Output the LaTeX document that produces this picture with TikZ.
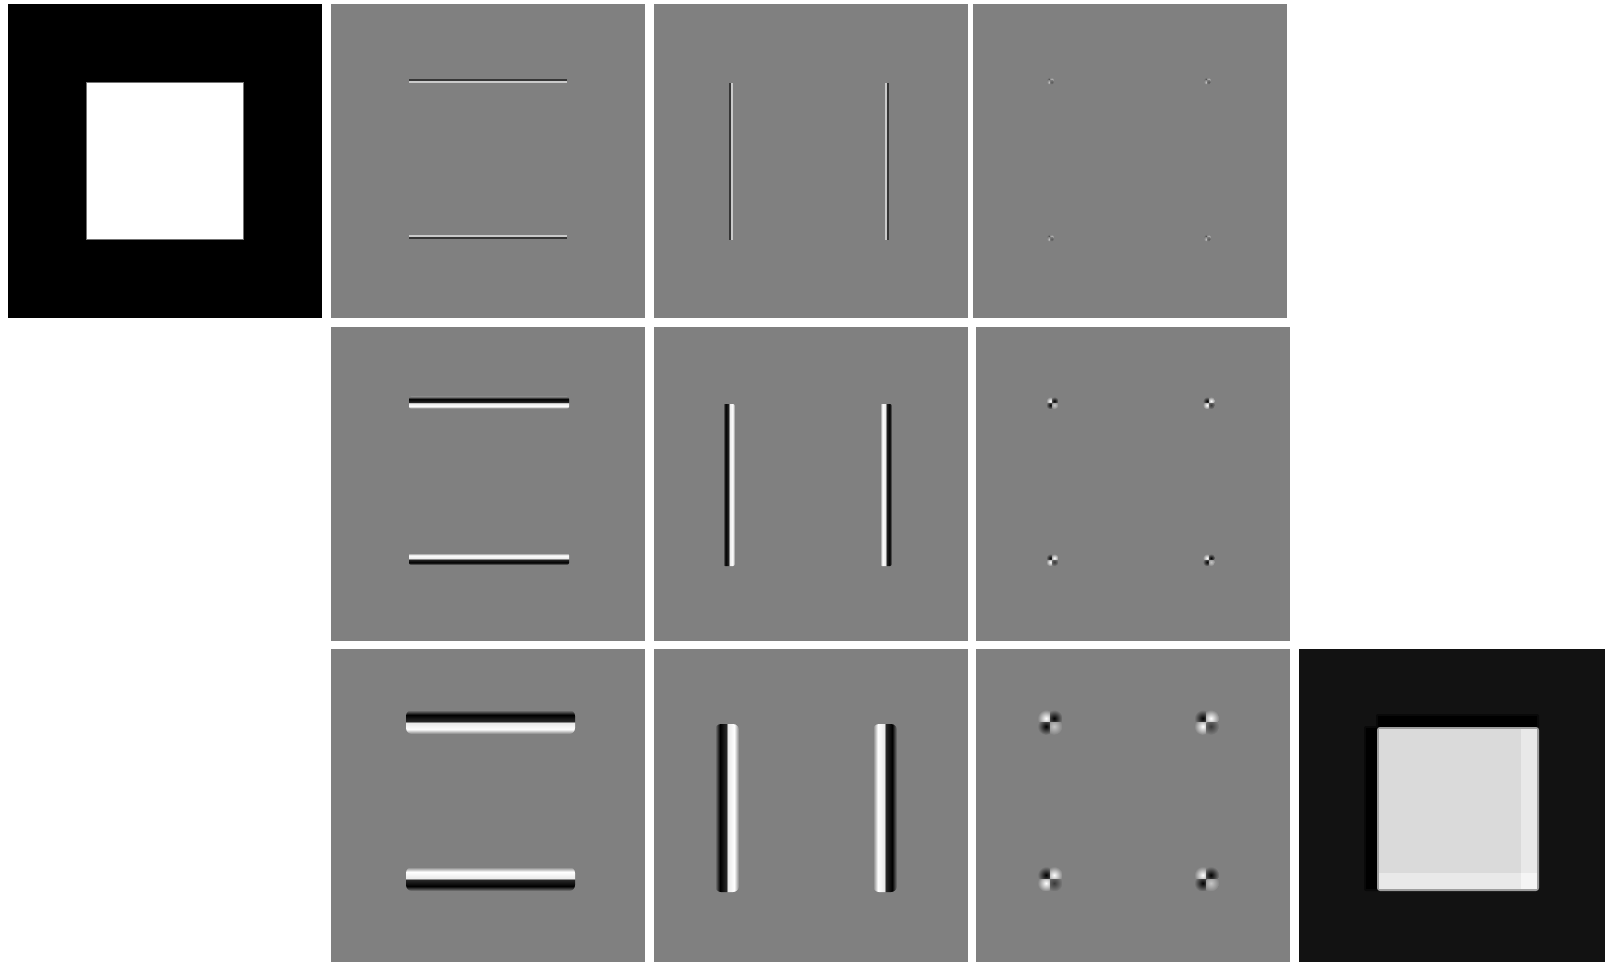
\documentclass[tikz,border=0pt]{standalone}
\usepackage{xcolor}
\usetikzlibrary{calc}
\definecolor{bggray}{HTML}{808080}
\definecolor{lvdark}{HTML}{363636}
\definecolor{lvlight}{HTML}{CACACA}
\definecolor{recdark}{HTML}{121212}
\definecolor{reclight}{HTML}{DADADA}
\definecolor{recbright}{HTML}{E9E9E9}

% dark band then light band, soft on both sides (path box = 25bp..75bp)
\pgfdeclarehorizontalshading{edgeband}{100bp}{color(0bp)=(bggray); color(25bp)=(bggray); color(35bp)=(black);
  color(48bp)=(black!85!white); color(52bp)=(white!92!black); color(65bp)=(white); color(75bp)=(bggray); color(100bp)=(bggray)}

\tikzset{
  panel/.style={fill=bggray},
  edge/.style={shading=edgeband}
}

% corner response: x, y, quadrant size, colour of TL/BR, colour of TR/BL
\newcommand{\cornerdot}[5]{%
  \foreach \dx/\dy/\qc in {-1/-1/#4, 1/-1/#5, -1/1/#5, 1/1/#4!55!bggray}{
    \begin{scope}
      \clip (#1,#2) rectangle ({#1+\dx*#3*1.3},{#2+\dy*#3*1.3});
      \shade[inner color=\qc, outer color=bggray] ({#1+\dx*#3*0.45},{#2+\dy*#3*0.45}) circle ({#3*0.95});
    \end{scope}
  }
}

\begin{document}
\begin{tikzpicture}[x=0.5pt, y=-0.5pt]

  %% Canvas
  \fill[white] (0,0) rectangle (1605,962);
  \useasboundingbox (0,0) rectangle (1605,962);

  %% Input image
  \fill[black] (8,4) rectangle (322,318);
  \fill[white, draw=black!55, line width=0.5pt] (86.3,82.3) rectangle (243.7,239.3);

  %% Detail panels
  \foreach \x/\y in {331/4, 654/4, 973/4, 331/327, 654/327, 976/327, 331/649, 654/649, 976/649}{
    \fill[panel] (\x,\y) rectangle ({\x+314},{min(\y+314,962)});
  }

  %% Level 1
  \fill[lvdark]  (409,79) rectangle (567,81);
  \fill[lvlight] (409,81) rectangle (567,83);
  \fill[lvlight] (409,235.3) rectangle (567,237.3);
  \fill[lvdark]  (409,237.3) rectangle (567,239.5);
  \fill[lvdark]  (728.5,82.7) rectangle (730.7,240);
  \fill[lvlight] (730.7,82.7) rectangle (732.7,240);
  \fill[lvlight] (885,82.7) rectangle (887,240);
  \fill[lvdark]  (887,82.7) rectangle (889,240);
  \foreach \cx/\cy/\ca/\cb in {1050.5/81/lvdark/lvlight, 1207.5/81/lvdark/lvlight,
                               1050.5/238/lvdark/lvlight, 1207.5/238/lvdark/lvlight}{
    \cornerdot{\cx}{\cy}{2.5}{\ca}{\cb}
  }

  %% Level 2
  \shade[edge, shading angle=270, rounded corners=1pt] (409,396.7) rectangle (569,408.7);
  \shade[edge, shading angle=90, rounded corners=1pt]  (409,553) rectangle (569,565);
  \shade[edge, shading angle=0, rounded corners=1pt]   (723,404) rectangle (735,566);
  \shade[edge, shading angle=180, rounded corners=1pt] (880,404) rectangle (892,566);
  \foreach \cx/\cy/\ca/\cb in {1052.3/403/white/black, 1209/403/black/white,
                               1052.3/560/black/white, 1209/560/white/black}{
    \cornerdot{\cx}{\cy}{4.5}{\ca}{\cb}
  }

  %% Level 3
  \shade[edge, shading angle=270, rounded corners=3pt] (406,710) rectangle (575,734);
  \shade[edge, shading angle=90, rounded corners=3pt]  (406,867) rectangle (575,891);
  \shade[edge, shading angle=0, rounded corners=3pt]   (715,724) rectangle (739,892);
  \shade[edge, shading angle=180, rounded corners=3pt] (873,724) rectangle (897,892);
  \foreach \cx/\cy/\ca/\cb in {1050/722.3/white/black, 1206.7/722.3/black/white,
                               1050/879/black/white, 1206.7/879/white/black}{
    \cornerdot{\cx}{\cy}{9}{\ca}{\cb}
  }

  %% Reconstruction
  \fill[recdark] (1299,649) rectangle (1605,962);
  \fill[black!50!recdark, rounded corners=1pt] (1376,714) rectangle (1539,728);
  \fill[black!50!recdark, rounded corners=1pt] (1364,726) rectangle (1379,891);
  \fill[black] (1378,716) rectangle (1537,727);
  \fill[black] (1366,728) rectangle (1377,889);
  \fill[reclight!70!recdark, rounded corners=1.5pt] (1377,727) rectangle (1539,891);
  \fill[reclight] (1379,728.5) rectangle (1537,889);
  \fill[recbright] (1521,728.5) rectangle (1537,889);
  \fill[recbright] (1379,873) rectangle (1537,889);
  \fill[white!96!black] (1521,873) rectangle (1537,889);

\end{tikzpicture}
\end{document}
